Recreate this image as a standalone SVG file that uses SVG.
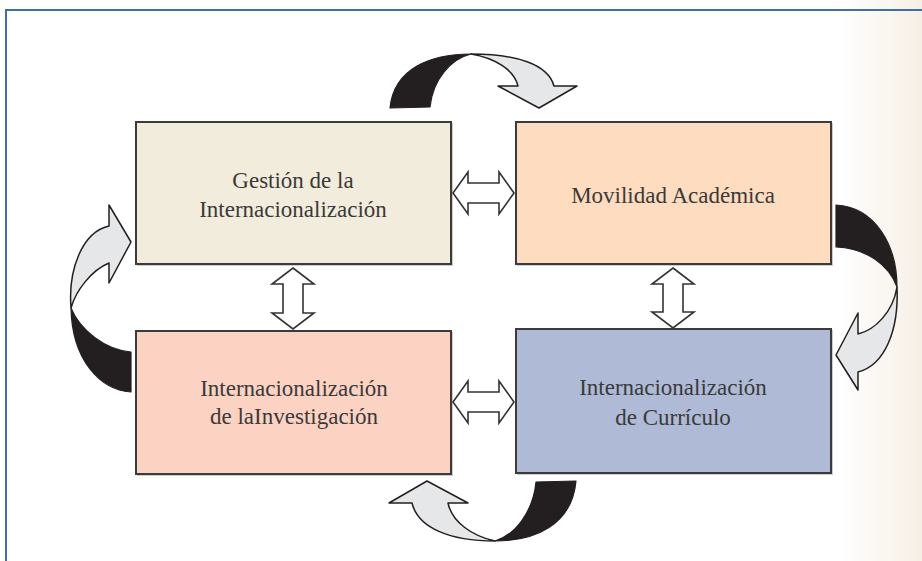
<svg xmlns="http://www.w3.org/2000/svg" width="922" height="561" viewBox="0 0 922 561">
<defs>
<linearGradient id="wall" x1="0" y1="0" x2="1" y2="0">
<stop offset="0" stop-color="#ffffff"/>
<stop offset="0.3" stop-color="#fcfaf7"/>
<stop offset="1" stop-color="#f6efe6"/>
</linearGradient>
</defs>
<style>
.box{stroke:#3b3b3b;stroke-width:2}
.shadow{fill:#9a9a9a;opacity:0.5}
.lbl{font-family:'Liberation Serif','DejaVu Serif',serif;font-size:23px;fill:#3a3a3a;text-anchor:middle}
.dark{fill:#231f20;stroke:#231f20;stroke-width:1.2;stroke-linejoin:round}
.light{fill:#e6e7e8;stroke:#231f20;stroke-width:1.5;stroke-linejoin:round}
.dbl{fill:#ffffff;stroke:#333333;stroke-width:1.6;stroke-linejoin:miter}
</style>
<rect x="0" y="0" width="922" height="561" fill="#ffffff"/>
<rect x="840" y="0" width="82" height="561" fill="url(#wall)"/>
<path d="M6,561 L6,10 L922,10" fill="none" stroke="#3f6fa3" stroke-width="2"/>

<g id="node-gestion">
<rect class="shadow" x="137" y="123" width="316" height="143"/>
<rect class="box" x="136" y="122" width="315" height="142" fill="#f2ecdc"/>
<text class="lbl" x="293" y="188">Gestión de la</text>
<text class="lbl" x="293" y="217">Internacionalización</text>
</g>
<g id="node-movilidad">
<rect class="shadow" x="517" y="123" width="316" height="143"/>
<rect class="box" x="516" y="122" width="315" height="142" fill="#fedcbf"/>
<text class="lbl" x="673" y="203">Movilidad Académica</text>
</g>
<g id="node-investigacion">
<rect class="shadow" x="137" y="332" width="316" height="144"/>
<rect class="box" x="136" y="331" width="315" height="143" fill="#fcd3c3"/>
<text class="lbl" x="294" y="396">Internacionalización</text>
<text class="lbl" x="294" y="424">de laInvestigación</text>
</g>
<g id="node-curriculo">
<rect class="shadow" x="517" y="330" width="316" height="145"/>
<rect class="box" x="516" y="329" width="315" height="144" fill="#aebad6"/>
<text class="lbl" x="673" y="395">Internacionalización</text>
<text class="lbl" x="673" y="425">de Currículo</text>
</g>

<g id="connectors">
<path class="dbl" d="M453,193 L468,172 L468,183 L499,183 L499,172 L514,193 L499,214 L499,203 L468,203 L468,214 Z"/>
<path class="dbl" d="M453,402 L468,381 L468,392 L499,392 L499,381 L514,402 L499,423 L499,412 L468,412 L468,423 Z"/>
<path class="dbl" d="M293,268 L314,284 L303,284 L303,313 L314,313 L293,329 L272,313 L283,313 L283,284 L272,284 Z"/>
<path class="dbl" d="M673,268 L694,284 L683,284 L683,312 L694,312 L673,328 L652,312 L663,312 L663,284 L652,284 Z"/>
<path class="dark" d="M430,107 L390,108 C394,68 431,54 471,54 C451,59 433,79 430,107 Z"/>
<path class="light" d="M471,54 C516,54 548,64 554,86 L577,86 L539,108 L498,86 L518,86 C514,69 494,58 471,54 Z"/>
<path class="dark" d="M836,205 C875,207 897,245 897,287 C889,265 866,248 836,247 Z"/>
<path class="light" d="M897,287 C899,330 885,365 858,372 L858,390 L836,355 L858,313 L858,334 C875,330 893,312 897,287 Z"/>
<path class="dark" d="M536,482 L576,481 C572,525 535,541 495,541 C515,535 533,512 536,482 Z"/>
<path class="light" d="M495,541 C450,541 418,528 412,503 L389,503 L427,481 L468,503 L448,503 C452,522 472,536 495,541 Z"/>
<path class="light" d="M109,226 L109,205 L131,242 L109,283 L109,263 C92,270 76,290 71,308 C68,270 82,232 109,226 Z"/>
<path class="dark" d="M71,308 C72,360 100,390 131,392 L131,352 C105,350 80,330 71,308 Z"/>
</g>
</svg>
